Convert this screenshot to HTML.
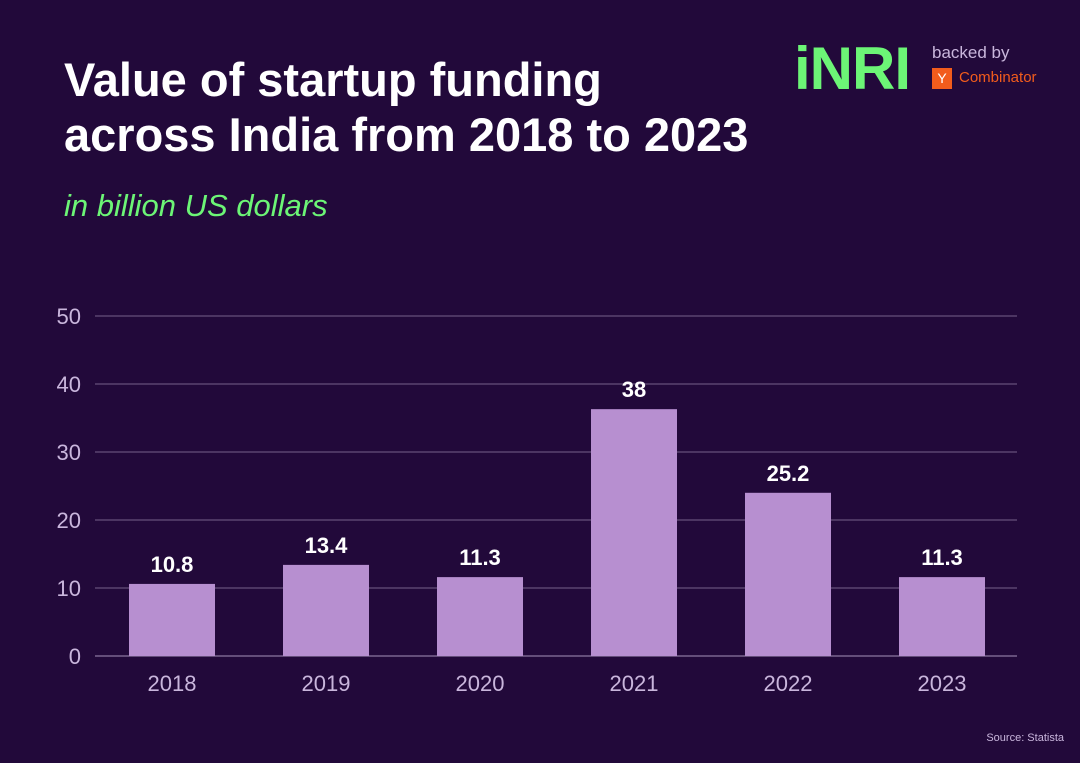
<!DOCTYPE html>
<html><head><meta charset="utf-8"><style>
body{margin:0;width:1080px;height:763px;background:#22093a;font-family:"Liberation Sans",sans-serif;overflow:hidden;position:relative}
.t{position:absolute;left:64px;top:52px;color:#fff;font-size:47px;font-weight:bold;line-height:55px;letter-spacing:0px}
.s{position:absolute;left:64px;top:188px;color:#6cf576;font-size:31px;font-style:italic;letter-spacing:0px}
.logo{position:absolute;left:794px;top:34px;color:#6cf576;font-size:60px;font-weight:bold;letter-spacing:-1px}
.bb{position:absolute;left:932px;top:43px;color:#c9b6dc;font-size:17px}
.yc{position:absolute;left:932px;top:68px;width:20px;height:21px;background:#f25c1c;color:#fff;font-size:14px;text-align:center;line-height:21px}
.cb{position:absolute;left:959px;top:69px;color:#f25c1c;font-size:15px}
.src{position:absolute;right:16px;top:732px;color:#c9b6dc;font-size:11px}
</style></head><body>
<div class="t">Value of startup funding<br>across India from 2018 to 2023</div>
<div class="s">in billion US dollars</div>
<div class="logo">iNRI</div>
<div class="bb">backed by</div>
<div class="yc">Y</div>
<div class="cb">Combinator</div>
<div class="src">Source: Statista</div>
<svg id="chart" width="1080" height="763" style="position:absolute;left:0;top:0"></svg>
<script>
const categories=["2018","2019","2020","2021","2022","2023"];
const barValues=[10.6,13.4,11.6,36.3,24.0,11.6];
const valueLabels=["10.8","13.4","11.3","38","25.2","11.3"];
const yTicks=[0,10,20,30,40,50];
const svg=document.getElementById('chart');
const NS="http://www.w3.org/2000/svg";
const y0=656,pxPer=6.8;
const y=v=>y0-v*pxPer;
const xc=i=>172+i*154;
function mk(tag,attrs,txt){const e=document.createElementNS(NS,tag);for(const k in attrs)e.setAttribute(k,attrs[k]);if(txt!==undefined)e.textContent=txt;svg.appendChild(e);return e;}
yTicks.forEach(t=>{
 const l=mk('line',{x1:95,x2:1017,y1:y(t),y2:y(t),stroke:t===0?'#7a6690':'#5a4470','stroke-width':1.5});
 
 
 const tx=mk('text',{x:81,y:y(t)+8,'text-anchor':'end',fill:'#c9b6dc','font-size':22,'font-family':'Liberation Sans, sans-serif'},String(t));
 
 
});
categories.forEach((c,i)=>{
 const v=barValues[i];
 const r=mk('rect',{x:xc(i)-43,y:y(v),width:86,height:v*pxPer,fill:'#b78fd0'});
 
 
 const lb=mk('text',{x:xc(i),y:y(v)-12,'text-anchor':'middle',fill:'#fff','font-size':22,'font-weight':'bold','font-family':'Liberation Sans, sans-serif'},valueLabels[i]);
 
 
 const xl=mk('text',{x:xc(i),y:691,'text-anchor':'middle',fill:'#c9b6dc','font-size':22,'font-family':'Liberation Sans, sans-serif'},c);
 
 
});
</script>
</body></html>
